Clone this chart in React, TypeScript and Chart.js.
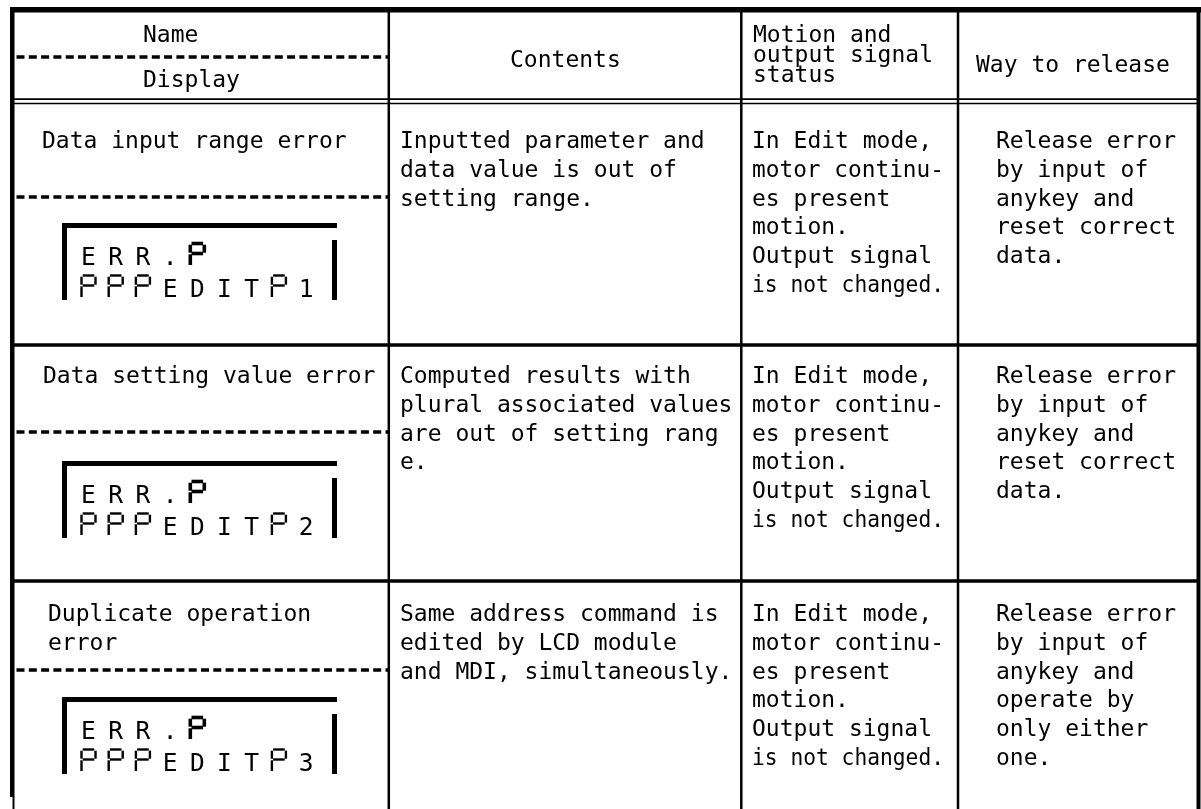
import React, { useEffect, useRef } from "react";
import { Chart, registerables } from "chart.js";

Chart.register(...registerables);

// ---------- table content (data) ----------
const headerName = "Name";
const headerDisplay = "Display";
const headerContents = "Contents";
const headerMotion = ["Motion and", "output signal", "status"];
const headerRelease = "Way to release";

const errorNames = [
  ["Data input range error"],
  ["Data setting value error"],
  ["Duplicate operation", "error"],
];

// "#" marks the segmented blank glyph of the LCD
const lcdLine1 = "ERR.#";
const lcdLine2 = ["###EDIT#1", "###EDIT#2", "###EDIT#3"];

const contents = [
  ["Inputted parameter and", "data value is out of", "setting range."],
  ["Computed results with", "plural associated values", "are out of setting rang", "e."],
  ["Same address command is", "edited by LCD module", "and MDI, simultaneously."],
];

const motionStatus = [
  ["In Edit mode,", "motor continu-", "es present", "motion.", "Output signal", "is not changed."],
  ["In Edit mode,", "motor continu-", "es present", "motion.", "Output signal", "is not changed."],
  ["In Edit mode,", "motor continu-", "es present", "motion.", "Output signal", "is not changed."],
];

const releaseWays = [
  ["Release error", "by input of", "anykey and", "reset correct", "data."],
  ["Release error", "by input of", "anykey and", "reset correct", "data."],
  ["Release error", "by input of", "anykey and", "operate by", "only either", "one."],
];

// ---------- layout (positions in scale units) ----------
const W = 1201;
const H = 809;
const colLines = [388.8, 741.3, 958];
const rowLines = [345, 581];
const headerDouble = [99.2, 103.5];
const dashedY = [57, 197, 432, 670];
const rowBaseline = [148, 383, 621];
const lineStep = 28.8;
const nameX = [42, 43, 48];
const contentsX = 400;
const motionX = 752;
const releaseX = 996;
const lcdTop = [223, 461, 697];

const FONT = '23px "DejaVu Sans Mono", "Liberation Mono", monospace';
const LCD_FONT = '24.5px "DejaVu Sans Mono", "Liberation Mono", monospace';

const tablePlugin = {
  id: "tableDraw",
  beforeDraw(chart: any) {
    const ctx = chart.ctx;
    ctx.save();
    ctx.fillStyle = "#ffffff";
    ctx.fillRect(0, 0, chart.width, chart.height);
    ctx.restore();
  },
  afterDraw(chart: any) {
    const ctx: CanvasRenderingContext2D = chart.ctx;
    const sx = chart.scales.x;
    const sy = chart.scales.y;
    const X = (v: number) => sx.getPixelForValue(v);
    const Y = (v: number) => sy.getPixelForValue(v);

    ctx.save();
    ctx.fillStyle = "#000";
    ctx.strokeStyle = "#000";
    ctx.lineCap = "butt";

    const rect = (x1: number, y1: number, x2: number, y2: number) => {
      ctx.fillRect(X(x1), Y(y1), X(x2) - X(x1), Y(y2) - Y(y1));
    };
    const hline = (x1: number, x2: number, y: number, w: number, dash?: number[]) => {
      ctx.beginPath();
      ctx.setLineDash(dash || []);
      ctx.lineWidth = w;
      ctx.moveTo(X(x1), Y(y));
      ctx.lineTo(X(x2), Y(y));
      ctx.stroke();
      ctx.setLineDash([]);
    };
    const vline = (x: number, y1: number, y2: number, w: number) => {
      ctx.beginPath();
      ctx.lineWidth = w;
      ctx.moveTo(X(x), Y(y1));
      ctx.lineTo(X(x), Y(y2));
      ctx.stroke();
    };

    // outer borders
    rect(10, 7, 1201, 12.5);
    rect(10, 7, 14.5, 797);
    rect(12.5, 797, 14.5, 809);
    rect(1196.5, 7, 1200.5, 809);

    // column dividers
    colLines.forEach((x) => vline(x, 12, 809, 2.5));
    // header double line
    headerDouble.forEach((y) => hline(14, 1197, y, 1.7));
    // row dividers
    rowLines.forEach((y) => hline(14, 1197, y, 3.3));
    // dashed name/display dividers
    dashedY.forEach((y) => hline(16.5, colLines[0], y, 3.5, [8, 4.3]));

    // header text
    ctx.font = FONT;
    ctx.textBaseline = "alphabetic";
    ctx.textAlign = "left";
    ctx.fillText(headerName, X(143), Y(42));
    ctx.fillText(headerDisplay, X(143), Y(87));
    ctx.fillText(headerContents, X(510), Y(67));
    headerMotion.forEach((t, i) => ctx.fillText(t, X(753), Y(42 + i * 20)));
    ctx.fillText(headerRelease, X(976), Y(72));

    // body text
    for (let r = 0; r < 3; r++) {
      const b0 = rowBaseline[r];
      errorNames[r].forEach((t, i) => ctx.fillText(t, X(nameX[r]), Y(b0 + i * lineStep)));
      contents[r].forEach((t, i) => ctx.fillText(t, X(contentsX), Y(b0 + i * lineStep), 334));
      motionStatus[r].forEach((t, i) => ctx.fillText(t, X(motionX), Y(b0 + i * lineStep), 192));
      releaseWays[r].forEach((t, i) => ctx.fillText(t, X(releaseX), Y(b0 + i * lineStep), 195));
    }

    // LCD boxes
    const seg = (cx: number, base: number, w: number) => {
      const top = base - 21.5;
      const bot = base;
      const mid = base - 11.5;
      const hw = 7;
      ctx.lineWidth = w;
      ctx.lineCap = "butt";
      const L = (x1: number, y1: number, x2: number, y2: number) => {
        ctx.beginPath();
        ctx.moveTo(X(x1), Y(y1));
        ctx.lineTo(X(x2), Y(y2));
        ctx.stroke();
      };
      L(cx - hw + 1.2, top, cx + hw - 1.2, top);
      L(cx - hw, top + 1.2, cx - hw, mid - 0.8);
      L(cx - hw, mid + 0.8, cx - hw, bot);
      L(cx + hw, top + 1.2, cx + hw, mid - 0.8);
      L(cx - hw + 1.2, mid, cx + hw - 1.2, mid);
    };

    for (let r = 0; r < 3; r++) {
      const t = lcdTop[r];
      rect(62, t, 337, t + 5);
      rect(62, t, 67, t + 77);
      rect(332, t + 17, 337, t + 77);
      ctx.font = LCD_FONT;
      ctx.textAlign = "center";
      const drawLine = (s: string, base: number, bold: number) => {
        for (let k = 0; k < s.length; k++) {
          const cx = 88.5 + k * 27.2;
          if (s[k] === "#") seg(cx, base, bold);
          else ctx.fillText(s[k], X(cx), Y(base));
        }
      };
      drawLine(lcdLine1, t + 42, 3.6);
      drawLine(lcdLine2[r], t + 74, 2.4);
      ctx.textAlign = "left";
    }

    ctx.restore();
  },
};

export default function App() {
  const ref = useRef<HTMLCanvasElement | null>(null);
  useEffect(() => {
    if (!ref.current) return;
    const chart = new Chart(ref.current, {
      type: "scatter",
      data: { datasets: [{ data: [], pointRadius: 0 }] },
      options: {
        animation: false,
        responsive: false,
        maintainAspectRatio: false,
        layout: { padding: 0 },
        events: [],
        plugins: { legend: { display: false }, tooltip: { enabled: false }, title: { display: false } },
        scales: {
          x: { type: "linear", min: 0, max: W, display: false },
          y: { type: "linear", min: 0, max: H, reverse: true, display: false },
        },
      },
      plugins: [tablePlugin],
    });
    return () => chart.destroy();
  }, []);
  return (
    <div style={{ position: "absolute", left: 0, top: 0, width: W, height: H, background: "#fff" }}>
      <canvas ref={ref} width={W} height={H} style={{ display: "block", width: W, height: H }} />
    </div>
  );
}
